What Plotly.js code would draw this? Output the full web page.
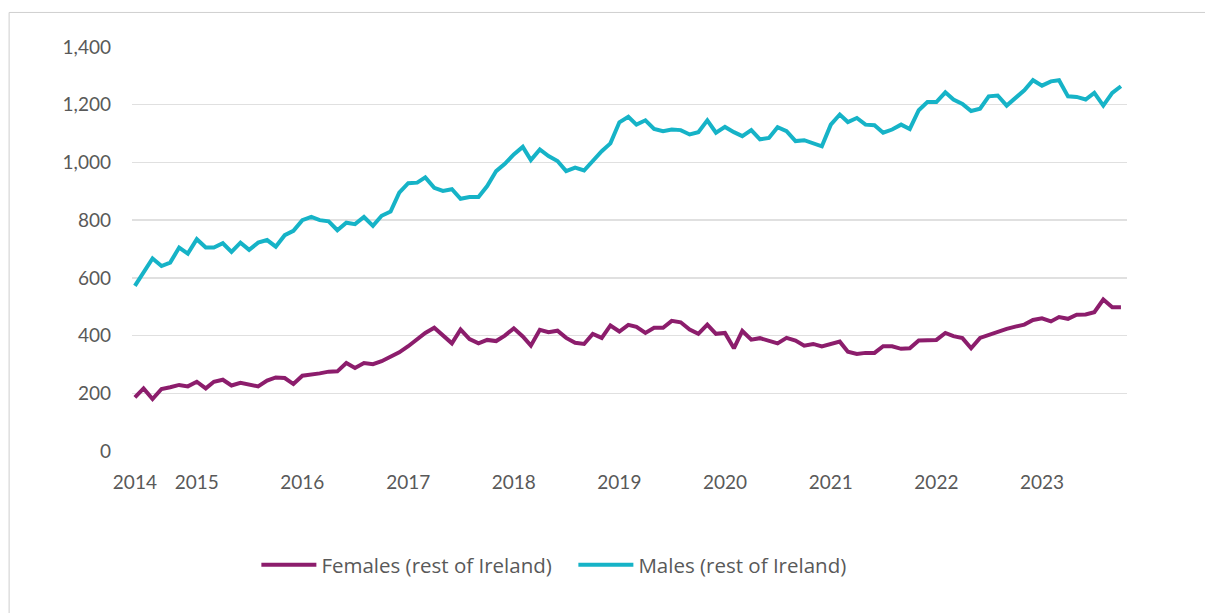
<!DOCTYPE html>
<html>
<head>
<meta charset="utf-8">
<script src="https://cdn.plot.ly/plotly-3.0.1.min.js"></script>
<style>
  html, body { margin: 0; padding: 0; background: #ffffff; }
  #chart { width: 1205px; height: 613px; }
</style>
</head>
<body>
<div id="chart"></div>
<script>
// Monthly series, June 2014 to October 2023
const startYear = 2014;
const startMonth = 6;
const monthCount = 113;

const females = [
  186, 217, 180, 215, 221, 229, 224, 240, 217, 240, 247, 227, 236, 229, 224, 244, 255, 253, 232, 261,
  264, 269, 275, 276, 305, 288, 305, 301, 311, 326, 342, 363, 388, 409, 427, 400, 373, 421, 388, 373,
  385, 381, 400, 425, 397, 365, 420, 412, 417, 392, 375, 371, 406, 392, 435, 414, 437, 430, 409, 427,
  427, 451, 446, 421, 406, 438, 406, 409, 356, 416, 386, 391, 383, 373, 392, 383, 365, 371, 362, 371,
  379, 344, 336, 340, 340, 363, 363, 354, 356, 383, 385, 385, 409, 398, 391, 356, 392, 402, 415, 423,
  431, 438, 454, 460, 449, 464, 458, 472, 473, 481, 525, 498, 498
];

const males = [
  572, 618, 667, 641, 653, 705, 684, 734, 705, 705, 720, 690, 722, 697, 722, 731, 708, 748, 763, 800,
  811, 800, 796, 765, 791, 786, 811, 780, 815, 830, 895, 928, 930, 948, 912, 901, 907, 874, 880, 880,
  918, 970, 995, 1028, 1054, 1008, 1045, 1022, 1005, 970, 982, 972, 1005, 1039, 1066, 1139, 1158, 1131, 1146, 1116,
  1108, 1114, 1112, 1097, 1105, 1146, 1103, 1123, 1105, 1091, 1112, 1080, 1085, 1122, 1108, 1074, 1077, 1068, 1056, 1131,
  1166, 1140, 1154, 1131, 1129, 1103, 1114, 1131, 1116, 1181, 1209, 1209, 1243, 1218, 1203, 1178, 1186, 1229, 1232, 1197,
  1224, 1250, 1285, 1266, 1281, 1285, 1229, 1227, 1218, 1241, 1197, 1241, 1264
];

const tickDates = ['2014-06-01', '2015-01-01', '2016-01-01', '2017-01-01', '2018-01-01',
                   '2019-01-01', '2020-01-01', '2021-01-01', '2022-01-01', '2023-01-01'];
const tickLabels = ['2014', '2015', '2016', '2017', '2018', '2019', '2020', '2021', '2022', '2023'];

const yTicks = [0, 200, 400, 600, 800, 1000, 1200, 1400];

const months = [];
for (let i = 0; i < monthCount; i++) {
  const m0 = startMonth - 1 + i;
  const y = startYear + Math.floor(m0 / 12);
  const m = (m0 % 12) + 1;
  months.push(y + '-' + String(m).padStart(2, '0') + '-01');
}

const FONT = 'Lato, "Open Sans", sans-serif';
const LEGFONT = '"Open Sans", Lato, sans-serif';
const GREY = '#595959';

const traces = [
  {
    x: months, y: females, type: 'scatter', mode: 'lines',
    name: 'Females (rest of Ireland)',
    line: { color: '#8C1D6C', width: 4 }
  },
  {
    x: months, y: males, type: 'scatter', mode: 'lines',
    name: 'Males (rest of Ireland)',
    line: { color: '#16B3C7', width: 4 }
  }
];

const layout = {
  width: 1205, height: 613,
  margin: { l: 132, r: 78, t: 47, b: 162 },
  paper_bgcolor: '#ffffff', plot_bgcolor: '#ffffff',
  font: { family: FONT, color: GREY, size: 18 },
  showlegend: true,
  legend: {
    orientation: 'h', x: 0.125, xanchor: 'left', y: -0.282, yanchor: 'middle',
    font: { family: LEGFONT, size: 20.5, color: GREY },
    itemwidth: 55, entrywidth: 247, entrywidthmode: 'pixels', traceorder: 'normal'
  },
  xaxis: {
    type: 'date',
    range: ['2014-05-22', '2023-10-22'],
    tickmode: 'array', tickvals: tickDates, ticktext: tickLabels,
    showgrid: false, zeroline: false, showline: false, ticks: '',
    ticklabelstandoff: 18,
    tickfont: { family: FONT, size: 19, color: GREY }
  },
  yaxis: {
    range: [0, 1400],
    tickmode: 'array', tickvals: yTicks,
    tickformat: ',d',
    showgrid: true, gridcolor: '#e0e0e0', gridwidth: 1.5,
    zeroline: false, showline: false, ticks: '',
    ticklabelstandoff: 20,
    tickfont: { family: FONT, size: 19, color: GREY }
  },
  shapes: [
    {
      type: 'rect', xref: 'paper', yref: 'paper',
      x0: -0.1235, x1: 1.2, y0: -0.6, y1: 1.0855,
      line: { color: '#cfcfcf', width: 1 }, fillcolor: 'rgba(0,0,0,0)', layer: 'below'
    }
  ]
};

Plotly.newPlot('chart', traces, layout, { displayModeBar: false, staticPlot: true });
</script>
</body>
</html>
